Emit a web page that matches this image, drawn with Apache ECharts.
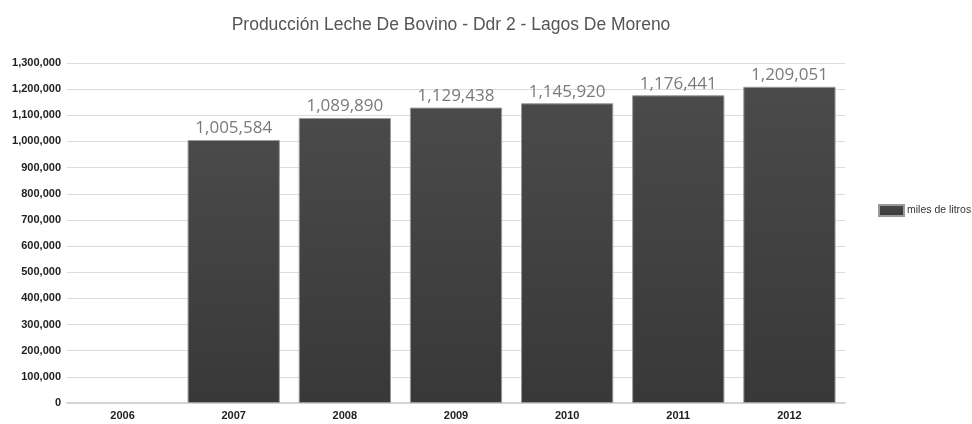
<!DOCTYPE html>
<html>
<head>
<meta charset="utf-8">
<script src="https://cdn.jsdelivr.net/npm/echarts@6/dist/echarts.min.js"></script>
<style>
  html, body { margin: 0; padding: 0; background: #fff; }
  #chart { width: 972px; height: 424px; }
</style>
</head>
<body>
<div id="chart"></div>
<script>
// Milk production by year (thousands of litres)
const years = ['2006', '2007', '2008', '2009', '2010', '2011', '2012'];
const produccion = [null, 1005584, 1089890, 1129438, 1145920, 1176441, 1209051];
const seriesName = 'miles de litros';
const chartTitle = 'Producción Leche De Bovino - Ddr 2 - Lagos De Moreno';

const fmt = v => v.toLocaleString('en-US');

const chart = echarts.init(document.getElementById('chart'));
chart.setOption({
  animation: false,
  backgroundColor: '#ffffff',
  title: {
    text: chartTitle,
    left: 446,
    textAlign: 'center',
    top: 11,
    textStyle: { fontFamily: 'Liberation Sans, Arial, sans-serif', fontSize: 17.5, fontWeight: 'normal', color: '#555' }
  },
  legend: {
    data: [{ name: seriesName, icon: 'rect' }],
    left: 873,
    top: 199,
    itemWidth: 25,
    itemHeight: 11,
    itemGap: 4,
    textStyle: { fontFamily: 'Liberation Sans, Arial, sans-serif', fontSize: 10.5, color: '#333', padding: [0, 0, 0, -2] }
  },
  grid: { left: 67, right: 127, top: 63, bottom: 21, containLabel: false },
  xAxis: {
    type: 'category',
    data: years,
    axisTick: { show: false },
    axisLine: { lineStyle: { color: '#d4d4d4', width: 2 } },
    axisLabel: { fontFamily: 'Liberation Sans, Arial, sans-serif', fontSize: 11, fontWeight: 'bold', color: '#222', margin: 7 }
  },
  yAxis: {
    type: 'value',
    min: 0,
    max: 1300000,
    interval: 100000,
    axisLine: { show: false },
    axisTick: { show: false },
    splitLine: { lineStyle: { color: '#dcdcdc', width: 1 } },
    axisLabel: { formatter: fmt, fontFamily: 'Liberation Sans, Arial, sans-serif', fontSize: 11, fontWeight: 'bold', color: '#222', margin: 6 }
  },
  series: [{
    name: seriesName,
    type: 'bar',
    data: produccion,
    barCategoryGap: '17%',
    itemStyle: {
      color: new echarts.graphic.LinearGradient(0, 0, 0, 1, [
        { offset: 0, color: '#4a4a4a' },
        { offset: 1, color: '#383838' }
      ]),
      borderColor: '#9a9a9a',
      borderWidth: 1
    },
    label: {
      show: true,
      position: 'top',
      distance: 3,
      formatter: p => p.value == null ? '' : fmt(p.value),
      fontFamily: 'Open Sans, Liberation Sans, sans-serif',
      fontSize: 17,
      color: '#7a7a7a'
    }
  }]
});
</script>
</body>
</html>
